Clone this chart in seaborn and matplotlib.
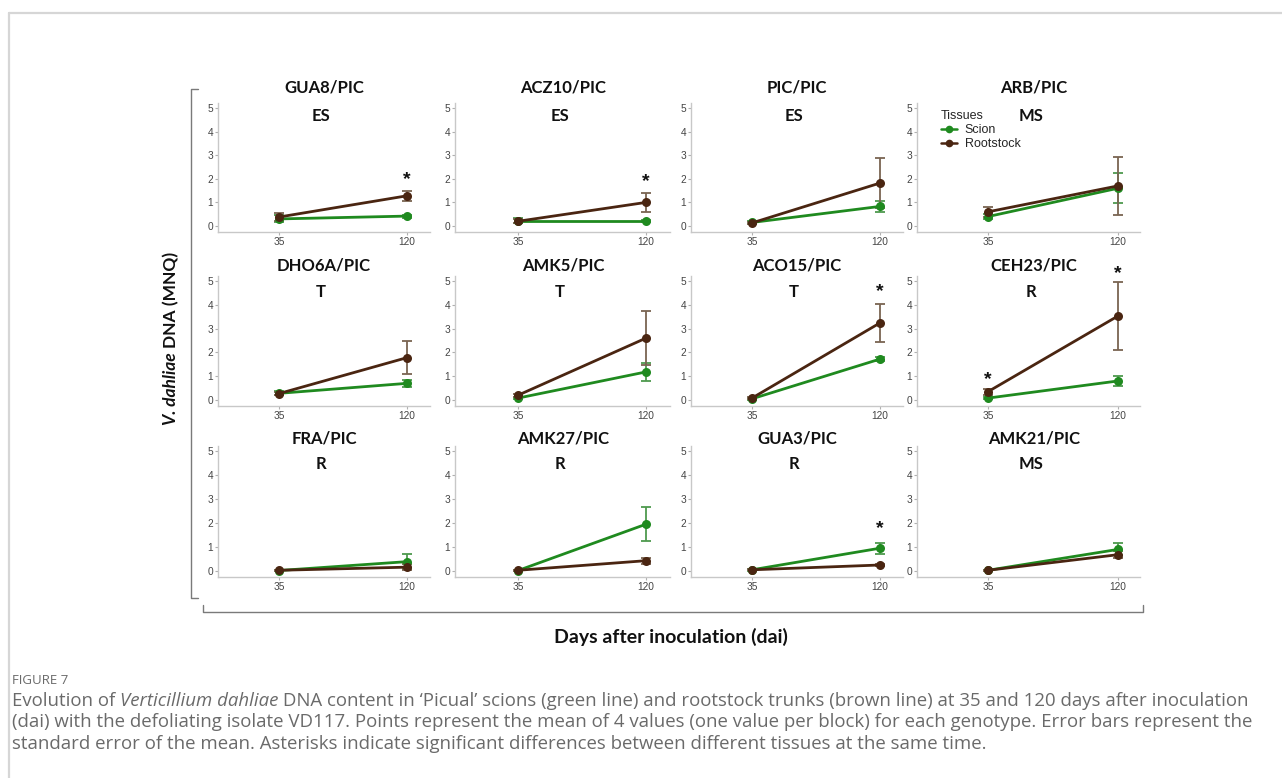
import matplotlib
matplotlib.use("Agg")
import matplotlib.pyplot as plt
from matplotlib.lines import Line2D
import numpy as np
import pandas as pd
import seaborn as sns

# ---- data -------------------------------------------------------------
genotypes = ["GUA8/PIC", "ACZ10/PIC", "PIC/PIC", "ARB/PIC",
             "DHO6A/PIC", "AMK5/PIC", "ACO15/PIC", "CEH23/PIC",
             "FRA/PIC", "AMK27/PIC", "GUA3/PIC", "AMK21/PIC"]
resistance = ["ES", "ES", "ES", "MS", "T", "T", "T", "R", "R", "R", "R", "MS"]
days = [35, 120]
tissues = ["Scion", "Rootstock"]

scion_35 = [0.30, 0.22, 0.15, 0.40, 0.28, 0.08, 0.05, 0.08, 0.02, 0.02, 0.05, 0.03]
scion_120 = [0.42, 0.22, 0.83, 1.60, 0.70, 1.18, 1.72, 0.80, 0.39, 1.95, 0.95, 0.90]
scion_se_35 = [0.15, 0.10, 0.08, 0.12, 0.08, 0.04, 0.03, 0.04, 0.02, 0.02, 0.03, 0.02]
scion_se_120 = [0.06, 0.05, 0.23, 0.63, 0.15, 0.38, 0.07, 0.22, 0.32, 0.72, 0.23, 0.25]

root_35 = [0.38, 0.20, 0.13, 0.60, 0.27, 0.20, 0.08, 0.35, 0.03, 0.03, 0.05, 0.03]
root_120 = [1.28, 1.00, 1.82, 1.70, 1.78, 2.60, 3.24, 3.53, 0.16, 0.43, 0.25, 0.68]
root_se_35 = [0.15, 0.08, 0.06, 0.20, 0.06, 0.06, 0.04, 0.12, 0.02, 0.02, 0.02, 0.02]
root_se_120 = [0.20, 0.40, 1.07, 1.23, 0.68, 1.13, 0.80, 1.42, 0.12, 0.12, 0.05, 0.15]

# significant differences between tissues (panel index, day, label height)
sig_panel = [0, 1, 6, 7, 7, 10]
sig_day = [120, 120, 120, 35, 120, 120]
sig_y = [1.95, 1.90, 4.55, 0.85, 5.30, 1.75]

# ---- long-form table ----------------------------------------------------
rows = []
for i, g in enumerate(genotypes):
    for d, m, s in zip(days, (scion_35[i], scion_120[i]), (scion_se_35[i], scion_se_120[i])):
        rows.append(dict(genotype=g, day=d, tissue="Scion", dna=m, se=s))
    for d, m, s in zip(days, (root_35[i], root_120[i]), (root_se_35[i], root_se_120[i])):
        rows.append(dict(genotype=g, day=d, tissue="Rootstock", dna=m, se=s))
df = pd.DataFrame(rows)

# ---- style -----------------------------------------------------------------
sns.set_theme(style="white")
plt.rcParams["font.family"] = ["Liberation Sans", "DejaVu Sans"]

W, H = 1282, 778
palette = {"Scion": "#1f8a1f", "Rootstock": "#4a2511"}
err_col = {"Scion": "#4e9a4e", "Rootstock": "#7a6452"}
head_font = ["Lato", "DejaVu Sans"]
cap_font = ["Open Sans", "DejaVu Sans"]

fig = plt.figure(figsize=(W / 100, H / 100), dpi=100)
fig.patch.set_facecolor("white")

# panel geometry in pixels: (left, right, x of 35, x of 120) per column
cols = [(218, 430, 279, 407), (455, 670, 518, 646),
        (691, 903, 752, 880), (917, 1140, 988, 1118)]
# (y of tick 5, y of tick 0) per row
rws = [(108, 226), (281, 400), (451, 571)]
ylo, yhi = -0.25, 5.2
title_y = [5.88, 5.65, 5.50]
sub_y = [4.66, 4.53, 4.45]


def fx(px):
    return px / W


def fy(py):
    return 1 - py / H


for i, g in enumerate(genotypes):
    r, c = divmod(i, 4)
    left, right, x35, x120 = cols[c]
    y5, y0 = rws[r]
    xs = (x120 - x35) / 85.0
    ys = (y0 - y5) / 5.0
    xlo = 35 - (x35 - left) / xs
    xhi = 120 + (right - x120) / xs
    bottom_px = y0 - ylo * ys
    top_px = y0 - yhi * ys
    ax = fig.add_axes([fx(left), fy(bottom_px), fx(right - left), (bottom_px - top_px) / H])
    sub = df[df.genotype == g]
    sns.lineplot(data=sub, x="day", y="dna", hue="tissue", hue_order=tissues,
                 palette=palette, marker="o", markersize=6.5, markeredgewidth=0,
                 linewidth=2.0, errorbar=None, ax=ax, legend=(i == 3))
    for t in tissues:
        st = sub[sub.tissue == t]
        ax.errorbar(st.day, st.dna, yerr=st.se, fmt="none", ecolor=err_col[t],
                    elinewidth=1.3, capsize=3.5, capthick=1.3, zorder=1)
    ax.set_xlim(xlo, xhi)
    ax.set_ylim(ylo, yhi)
    ax.set_xticks(days)
    ax.set_yticks(range(6))
    ax.set_xlabel("")
    ax.set_ylabel("")
    for sp in ("top", "right"):
        ax.spines[sp].set_visible(False)
    for sp in ("left", "bottom"):
        ax.spines[sp].set_color("#c8c8c8")
        ax.spines[sp].set_linewidth(1.0)
    ax.tick_params(axis="both", which="both", length=2, width=0.8, color="#b0b0b0",
                   labelsize=7.3, labelcolor="#444444", pad=1.5, left=True, bottom=True)
    ax.patch.set_alpha(0)
    ax.text(65, title_y[r], g, ha="center", va="center", fontsize=12,
            fontweight="bold", family=head_font, color="#111111", clip_on=False)
    ax.text(63, sub_y[r], resistance[i], ha="center", va="center", fontsize=12,
            fontweight="bold", family=head_font, color="#111111", clip_on=False)
    for p, d, yv in zip(sig_panel, sig_day, sig_y):
        if p == i:
            ax.text(d, yv, "*", ha="center", va="center", fontsize=14,
                    fontweight="bold", color="#111111", clip_on=False)
    if i == 3:
        sns.move_legend(ax, "upper left", bbox_to_anchor=(0.085, 0.985), frameon=False,
                        title="Tissues", fontsize=9, title_fontsize=9,
                        handlelength=1.3, handletextpad=0.6, labelspacing=0.15,
                        borderaxespad=0.0)
        leg = ax.get_legend()
        leg._legend_box.align = "left"
        for h in leg.legend_handles:
            h.set_linewidth(1.8)
            h.set_markersize(5.5)

# ---- brackets and frame ------------------------------------------------------
bracket = dict(color="#7a7a7a", linewidth=1.0)
fig.add_artist(Line2D([fx(198), fx(191), fx(191), fx(198)],
                      [fy(89), fy(89), fy(598), fy(598)], **bracket))
fig.add_artist(Line2D([fx(203), fx(203), fx(1143), fx(1143)],
                      [fy(605), fy(612), fy(612), fy(605)], **bracket))
frame = dict(color="#d6d6d6", linewidth=1.6)
fig.add_artist(Line2D([fx(9), fx(W)], [fy(13), fy(13)], **frame))
fig.add_artist(Line2D([fx(9), fx(9)], [fy(13), fy(H)], **frame))

fig.text(fx(671), fy(637), "Days after inoculation (dai)", ha="center", va="center",
         fontsize=14, fontweight="bold", family=head_font, color="#111111")

renderer = fig.canvas.get_renderer()

# y axis title with italic species name, built from two pieces
y_start = fy(425)
t1 = fig.text(fx(171), y_start, "V. dahliae", rotation=90, ha="center", va="bottom",
              fontsize=12.5, fontweight="bold", fontstyle="italic", family=head_font,
              color="#111111")
ext = t1.get_window_extent(renderer)
fig.text(fx(171), y_start + (ext.height + 4) / H, "DNA (MNQ)", rotation=90,
         ha="center", va="bottom", fontsize=12.5, fontweight="bold", family=head_font,
         color="#111111")

# caption
cap_color = "#6a6a6a"
fig.text(fx(12), fy(681), "FIGURE 7", ha="left", va="center", fontsize=9.5,
         family=cap_font, color=cap_color)


def caption_line(pieces, y_px, size=13.4):
    x = fx(12)
    for txt, style in pieces:
        t = fig.text(x, fy(y_px), txt, ha="left", va="center", fontsize=size,
                     family=cap_font, fontstyle=style, color=cap_color)
        e = t.get_window_extent(renderer)
        x += e.width / W


caption_line([("Evolution of ", "normal"), ("Verticillium dahliae", "italic"),
              (" DNA content in \u2018Picual\u2019 scions (green line) and rootstock trunks "
               "(brown line) at 35 and 120 days after inoculation", "normal")], 701)
caption_line([("(dai) with the defoliating isolate VD117. Points represent the mean of 4 "
               "values (one value per block) for each genotype. Error bars represent the",
               "normal")], 722)
caption_line([("standard error of the mean. Asterisks indicate significant differences "
               "between different tissues at the same time.", "normal")], 744)

fig.savefig("out.png", dpi=100, facecolor="white")
